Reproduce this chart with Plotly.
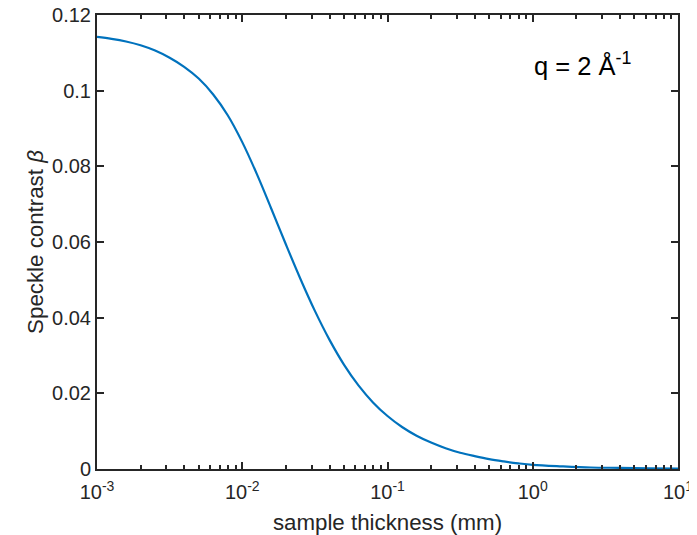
import numpy as np
import plotly.graph_objects as go

# sample thickness (mm), as log10 values, and speckle contrast
log_thickness = [-3.0, -2.9, -2.8, -2.7, -2.6, -2.5, -2.4, -2.3, -2.2, -2.1, -2.0,
                 -1.9, -1.8, -1.7, -1.6, -1.5, -1.4, -1.3, -1.2, -1.1, -1.0,
                 -0.9, -0.8, -0.7, -0.6, -0.5, -0.4, -0.3, -0.2, -0.1, 0.0,
                 0.2, 0.4, 0.6, 0.8, 1.0]
contrast = [0.1142, 0.1137, 0.1130, 0.1120, 0.1106, 0.1087, 0.1063, 0.1032, 0.0990, 0.0935, 0.0864,
            0.0780, 0.0688, 0.0594, 0.0503, 0.0418, 0.0342, 0.0276, 0.0221, 0.0176, 0.0140,
            0.0111, 0.0088, 0.0070, 0.0055, 0.0043, 0.0034, 0.0026, 0.0020, 0.0015, 0.0011,
            0.0007, 0.0004, 0.0003, 0.0002, 0.0001]
thickness = [10 ** v for v in log_thickness]

x_tickvals = [1e-3, 1e-2, 1e-1, 1e0, 1e1]
x_ticktext = ["10<sup>-3</sup>", "10<sup>-2</sup>", "10<sup>-1</sup>", "10<sup>0</sup>", "10<sup>1</sup>"]
y_tickvals = [0, 0.02, 0.04, 0.06, 0.08, 0.1, 0.12]
y_ticktext = ["0", "0.02", "0.04", "0.06", "0.08", "0.1", "0.12"]
x_minor = [m * 10 ** e for e in range(-3, 1) for m in range(2, 10)]

INK = "#262626"
FONT = "Liberation Sans, Arial, sans-serif"

fig = go.Figure()
fig.add_trace(go.Scatter(
    x=thickness, y=contrast, mode="lines",
    line=dict(color="#0072BD", width=2.2, shape="spline", smoothing=1.0),
    showlegend=False, hoverinfo="skip",
))

# the page body has an 8px margin, so the figure is drawn 8px in from the corner
fig.update_layout(
    width=689, height=527,
    margin=dict(l=89, r=19, t=7, b=66),
    paper_bgcolor="white", plot_bgcolor="white",
    font=dict(family=FONT, color=INK, size=20),
    xaxis=dict(
        type="log", range=[-3, 1], automargin=False,
        tickmode="array", tickvals=x_tickvals, ticktext=x_ticktext,
        ticks="inside", ticklen=7, tickwidth=1.5, tickcolor=INK,
        ticklabelstandoff=4, ticklabeloverflow="allow",
        minor=dict(tickmode="array", tickvals=x_minor, ticks="inside",
                   ticklen=4, tickwidth=1.5, tickcolor=INK, showgrid=False),
        showline=True, linecolor=INK, linewidth=2, mirror="ticks",
        showgrid=False, zeroline=False,
        tickfont=dict(size=20, color=INK),
        title=dict(text="sample thickness (mm)", font=dict(size=22.3, color=INK), standoff=14),
    ),
    yaxis=dict(
        range=[0, 0.12], automargin=False,
        tickmode="array", tickvals=y_tickvals, ticktext=y_ticktext,
        ticks="inside", ticklen=7, tickwidth=1.5, tickcolor=INK,
        ticklabelstandoff=0, ticklabeloverflow="allow",
        showline=True, linecolor=INK, linewidth=2, mirror="ticks",
        showgrid=False, zeroline=False,
        tickfont=dict(size=20, color=INK),
        title=dict(text="Speckle contrast <i>β</i>", font=dict(size=22.3, color=INK), standoff=2),
    ),
    annotations=[dict(
        text="q = 2 Å<sup>-1</sup>", xref="paper", yref="paper",
        x=0.835, y=0.892, xanchor="center", yanchor="middle",
        showarrow=False, font=dict(size=25.5, color="black", family=FONT),
    )],
)

fig.write_html("out.html")
